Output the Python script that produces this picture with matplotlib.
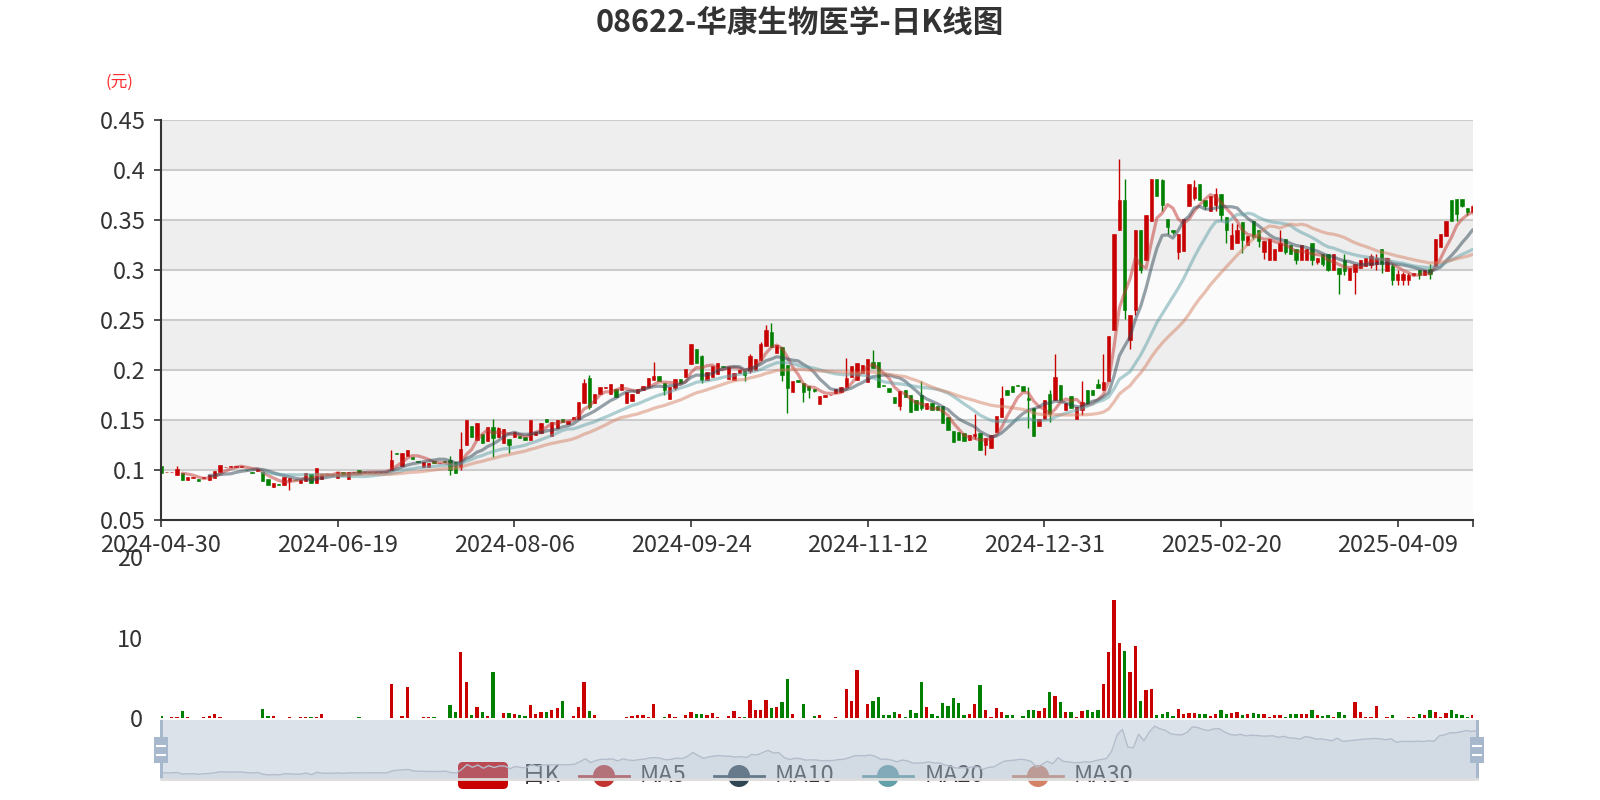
"""
08622 华康生物医学 — daily K-line chart with MA lines, volume and zoom slider.
Values were read off the reference picture (approximate).
"""

import numpy as np
import pandas as pd
import matplotlib
matplotlib.use("Agg")
import matplotlib.pyplot as plt
from matplotlib.patches import Rectangle, FancyBboxPatch, Circle

plt.rcParams["font.family"] = ["Noto Sans CJK SC", "DejaVu Sans"]

TITLE = "08622-华康生物医学-日K线图"
UNIT = "(元)"

# ── Trading calendar ───────────────────────────────────────────────────────
HOLIDAYS = [
    "2024-05-01", "2024-05-15", "2024-06-10", "2024-07-01", "2024-09-18",
    "2024-10-01", "2024-10-11", "2024-12-25", "2024-12-26", "2025-01-01",
    "2025-01-29", "2025-01-30", "2025-01-31", "2025-04-04", "2025-04-18",
    "2025-04-21", "2025-05-01",
]
NO_TRADE = ["2024-09-06"]

# ── Daily OHLC (HKD) ───────────────────────────────────────────────────────
OPEN = [
    .1044, .0980, .0980, .0954, .0971, .0908, .0925, .0911, .0920, .0904,
    .0924, .0984, .1030, .1035, .1035, .1035, .1008, .0985, .0990, .0987,
    .0911, .0837, .0865, .0854, .0890, .0908, .0877, .0897, .0964, .0877,
    .0917, .0955, .0955, .0927, .0984, .0917, .0980, .1004, .0980, .0980,
    .0980, .0980, .0980, .1000, .1170, .1047, .1144, .1130, .1090, .1037,
    .1037, .1090, .1070, .1092, .1104, .1080, .1037, .1254, .1444, .1304,
    .1364, .1297, .1437, .1330, .1277, .1310, .1330, .1340, .1337, .1304,
    .1354, .1370, .1514, .1344, .1420, .1510, .1464, .1510, .1517, .1670,
    .1920, .1671, .1764, .1828, .1764, .1817, .1804, .1671, .1694, .1771,
    .1804, .1831, .1900, .1944, .1871, .1711, .1820, .1911, .1931, .2064,
    .2211, .2140, .1904, .1931, .1964, .2044, .1911, .1904, .1971, .1997,
    .1990, .2004, .2104, .2244, .2380, .2171, .2230, .2050, .1787, .1904,
    .1871, .1844, .1811, .1661, .1731, .1750, .1771, .1787, .1837, .1937,
    .1904, .1977, .1887, .2080, .2087, .1848, .1820, .1731, .1640, .1804,
    .1754, .1704, .1750, .1611, .1677, .1640, .1644, .1537, .1397, .1387,
    .1370, .1304, .1340, .1370, .1250, .1220, .1387, .1537, .1804, .1844,
    .1850, .1844, .1720, .1620, .1444, .1519, .1760, .1707, .1858, .1602,
    .1745, .1519, .1600, .1802, .1802, .1860, .1802, .1896, .2405, .3404,
    .3700, .2300, .2600, .3404, .3103, .3498, .3913, .3900, .3517, .3404,
    .3180, .3197, .3649, .3720, .3864, .3706, .3593, .3650, .3762, .3536,
    .3216, .3272, .3480, .3253, .3498, .3404, .3180, .3103, .3103, .3197,
    .3310, .3253, .3216, .3103, .3103, .3272, .3080, .3159, .3159, .3008,
    .3027, .3100, .2906, .2980, .3027, .3046, .3050, .3060, .3216, .2997,
    .3040, .2900, .2900, .2900, .2950, .3008, .2959, .3010, .3046, .3235,
    .3348, .3706, .3713, .3713, .3623, .3580,
]
CLOSE = [
    .0977, .0985, .0985, .1011, .0904, .0930, .0930, .0897, .0930, .0950,
    .0994, .1051, .1035, .1040, .1040, .1040, .1000, .0978, .1010, .0897,
    .0857, .0877, .0858, .0930, .0920, .0900, .0904, .0977, .0871, .1020,
    .0964, .0960, .0960, .0980, .0957, .0984, .0985, .0977, .0985, .0985,
    .0985, .0985, .0985, .1100, .1160, .1170, .1200, .1110, .1085, .1080,
    .1074, .1070, .1074, .1088, .1004, .0977, .1214, .1504, .1337, .1477,
    .1277, .1437, .1320, .1420, .1410, .1250, .1387, .1324, .1304, .1504,
    .1387, .1477, .1487, .1487, .1504, .1487, .1497, .1530, .1684, .1870,
    .1630, .1764, .1837, .1832, .1864, .1731, .1861, .1787, .1761, .1814,
    .1847, .1924, .1944, .1897, .1800, .1831, .1911, .1877, .2014, .2264,
    .2071, .1900, .1987, .2044, .2071, .2031, .2031, .1971, .2004, .1950,
    .2140, .2114, .2260, .2400, .2238, .2254, .1950, .1820, .1897, .1880,
    .1780, .1800, .1795, .1744, .1754, .1754, .1814, .1831, .1920, .2044,
    .2071, .2054, .2110, .2020, .1837, .1844, .1787, .1677, .1790, .1731,
    .1587, .1604, .1620, .1671, .1604, .1604, .1470, .1404, .1287, .1304,
    .1297, .1354, .1360, .1204, .1320, .1354, .1544, .1720, .1754, .1787,
    .1840, .1797, .1700, .1344, .1510, .1707, .1560, .1934, .1700, .1670,
    .1620, .1632, .1680, .1660, .1750, .1820, .1880, .2348, .3367, .3706,
    .2600, .2556, .3404, .3000, .3555, .3913, .3744, .3650, .3430, .3380,
    .3367, .3517, .3864, .3830, .3706, .3640, .3744, .3760, .3550, .3400,
    .3350, .3400, .3300, .3348, .3330, .3290, .3291, .3310, .3216, .3272,
    .3180, .3160, .3100, .3253, .3216, .3100, .3121, .3060, .3000, .3159,
    .2960, .2990, .3027, .3065, .3103, .3121, .3140, .3120, .3060, .3121,
    .2900, .2960, .2960, .2950, .2970, .2950, .3008, .2960, .3310, .3367,
    .3498, .3498, .3560, .3640, .3580, .3640,
]
HIGH = [
    .1044, .0985, .0985, .1044, .0971, .0930, .0930, .0911, .0930, .0950,
    .0994, .1058, .1035, .1040, .1040, .1040, .1008, .0985, .1010, .0987,
    .0911, .0877, .0865, .0930, .0920, .0908, .0904, .0977, .0964, .1020,
    .0964, .0960, .0960, .0980, .0984, .0984, .0985, .1004, .0985, .0985,
    .0985, .0985, .0985, .1204, .1170, .1170, .1204, .1130, .1090, .1080,
    .1074, .1090, .1074, .1092, .1144, .1080, .1387, .1504, .1444, .1477,
    .1364, .1437, .1510, .1430, .1410, .1310, .1387, .1340, .1337, .1504,
    .1387, .1477, .1514, .1487, .1504, .1510, .1497, .1530, .1684, .1917,
    .1950, .1764, .1837, .1832, .1864, .1817, .1861, .1787, .1761, .1814,
    .1847, .1924, .2087, .1944, .1871, .1831, .1911, .1911, .2014, .2264,
    .2211, .2151, .1987, .2044, .2071, .2044, .2031, .1971, .2004, .1997,
    .2164, .2114, .2281, .2454, .2471, .2254, .2230, .2051, .1897, .1904,
    .1871, .1844, .1811, .1744, .1754, .1754, .1814, .1831, .2121, .2044,
    .2071, .2054, .2110, .2204, .2087, .1848, .1820, .1731, .1790, .1804,
    .1754, .1704, .1894, .1671, .1677, .1640, .1644, .1537, .1397, .1387,
    .1370, .1354, .1564, .1370, .1320, .1354, .1544, .1844, .1804, .1844,
    .1850, .1844, .1837, .1620, .1510, .1707, .1802, .2160, .1858, .1670,
    .1745, .1632, .1896, .1802, .1802, .1915, .2160, .2348, .3367, .4113,
    .3913, .2556, .3404, .3404, .3555, .3913, .3913, .3913, .3517, .3404,
    .3367, .3517, .3864, .3902, .3864, .3706, .3744, .3819, .3762, .3536,
    .3472, .3461, .3480, .3348, .3498, .3404, .3291, .3310, .3216, .3404,
    .3310, .3253, .3216, .3253, .3216, .3272, .3121, .3159, .3159, .3159,
    .3027, .3159, .3027, .3065, .3103, .3121, .3159, .3159, .3216, .3121,
    .3065, .3008, .2989, .2971, .2971, .3008, .3008, .3065, .3310, .3367,
    .3498, .3706, .3713, .3713, .3623, .3661,
]
LOW = [
    .0977, .0980, .0980, .0954, .0904, .0908, .0925, .0897, .0920, .0904,
    .0924, .0984, .1030, .1035, .1035, .1035, .1000, .0978, .0990, .0897,
    .0857, .0837, .0858, .0854, .0804, .0900, .0877, .0897, .0871, .0877,
    .0917, .0955, .0955, .0927, .0957, .0917, .0980, .0977, .0980, .0980,
    .0980, .0980, .0980, .1000, .1160, .1047, .1144, .1110, .1085, .1037,
    .1037, .1070, .1070, .1088, .0957, .0977, .1000, .1254, .1337, .1304,
    .1277, .1297, .1130, .1330, .1277, .1170, .1330, .1324, .1304, .1304,
    .1354, .1370, .1487, .1344, .1420, .1487, .1464, .1510, .1517, .1670,
    .1610, .1671, .1764, .1828, .1764, .1731, .1804, .1671, .1694, .1771,
    .1804, .1831, .1900, .1897, .1754, .1711, .1804, .1877, .1931, .2064,
    .2071, .1877, .1904, .1931, .1964, .2031, .1911, .1904, .1971, .1897,
    .1971, .2004, .2104, .2244, .2238, .2171, .1897, .1571, .1787, .1880,
    .1687, .1721, .1787, .1661, .1731, .1750, .1771, .1787, .1837, .1937,
    .1904, .1977, .1887, .2020, .1837, .1844, .1787, .1677, .1604, .1731,
    .1587, .1604, .1604, .1611, .1604, .1604, .1470, .1404, .1287, .1304,
    .1297, .1304, .1310, .1204, .1154, .1220, .1387, .1537, .1754, .1787,
    .1840, .1797, .1420, .1344, .1444, .1519, .1481, .1707, .1700, .1602,
    .1620, .1519, .1557, .1660, .1750, .1820, .1802, .1896, .2405, .3404,
    .2518, .2216, .2556, .2971, .3103, .3498, .3744, .3593, .3367, .3367,
    .3110, .3197, .3649, .3706, .3706, .3612, .3593, .3593, .3498, .3272,
    .3216, .3272, .3178, .3253, .3310, .3235, .3110, .3103, .3103, .3197,
    .3159, .3159, .3065, .3103, .3103, .3054, .3065, .3046, .2997, .3008,
    .2763, .2959, .2906, .2763, .3027, .3046, .3027, .3008, .2971, .2997,
    .2857, .2857, .2857, .2857, .2950, .2914, .2959, .2914, .3046, .3235,
    .3348, .3498, .3498, .3630, .3555, .3555,
]

# ── Daily volume ───────────────────────────────────────────────────────────
VOLUME = [
    .30, .10, .20, .20, .90, .20, .05, .10, .15, .35,
    .50, .15, .05, .05, .05, .05, .10, .10, .10, 1.2,
    .35, .35, .10, .10, .20, .05, .20, .20, .20, .20,
    .50, .05, .05, .10, .10, .05, .05, .20, .05, .05,
    .05, .05, .05, 4.3, .10, .25, 3.9, .10, .10, .15,
    .15, .15, .05, .05, 1.7, .75, 8.2, 4.5, .40, 1.4,
    .80, .25, 5.8, .10, .70, .70, .50, .40, .30, 1.6,
    .60, .80, .80, 1.1, 1.3, 2.1, .10, .30, 1.4, 4.5,
    .90, .40, .10, .10, .05, .10, .10, .15, .35, .40,
    .40, .20, 1.75, .05, .15, .50, .20, .10, .40, .80,
    .60, .50, .40, .70, .20, .05, .30, .90, .20, .20,
    2.3, 1.1, 1.1, 2.3, 1.25, 1.4, 2.0, 4.9, .50, .05,
    1.75, .10, .30, .40, .10, .05, .20, .05, 3.6, 2.2,
    6.0, .10, 1.8, 2.2, 2.6, .40, .40, .80, .60, .20,
    1.1, .70, 4.5, 1.4, .50, .30, 1.9, 1.5, 2.5, 1.9,
    .40, .60, 1.8, 4.1, 1.0, .20, 1.3, .80, .40, .40,
    .05, .30, 1.0, 1.1, .90, 1.3, 3.3, 2.8, 2.0, .75,
    .75, .20, .90, 1.0, .75, 1.1, 4.3, 8.2, 14.7, 9.4,
    8.4, 5.8, 9.0, 2.2, 3.5, 3.7, .40, .50, .80, .30,
    1.2, .50, .70, .70, .60, .50, .30, .50, 1.1, .50,
    .70, .75, .40, .50, .70, .60, .50, .20, .40, .40,
    .20, .50, .60, .60, .50, 1.0, .40, .30, .40, .15,
    .85, .40, .10, 2.0, .80, .20, .20, 1.5, .10, .20,
    .40, .10, .10, .15, .15, .50, .40, 1.0, .75, .20,
    .70, 1.0, .50, .40, .20, .40,
]

PRICE_TICKS = [0.05, 0.1, 0.15, 0.2, 0.25, 0.3, 0.35, 0.4, 0.45]
VOLUME_TICKS = [0, 10, 20]
LABEL_EVERY = 33

# ── Styling ────────────────────────────────────────────────────────────────
UP_COLOR   = "#c80000"
DOWN_COLOR = "#008000"
MA_WINDOWS = [5, 10, 20, 30]
MA_COLORS  = ["#c23531", "#2f4554", "#61a0a8", "#d48265"]
TEXT_COLOR = "#333333"
SLIDER_COL = "#a7b7cc"

W, H = 1600, 800
PLOT_L, PLOT_R = 161, 1472.7      # pixel edges of the price / volume plots


def fx(px):
    return px / W


def fy(py):
    return 1 - py / H


def trading_days():
    days = pd.bdate_range("2024-04-30", "2025-05-02")
    drop = pd.to_datetime(HOLIDAYS + NO_TRADE)
    days = days[~days.isin(drop)]
    return [d.strftime("%Y-%m-%d") for d in days]


# ── Price panel ────────────────────────────────────────────────────────────
def draw_price(fig, dates, x, colors):
    ax = fig.add_axes([fx(PLOT_L), fy(520.4), fx(PLOT_R) - fx(PLOT_L), 400 / H])
    o, c = np.array(OPEN), np.array(CLOSE)
    h, l = np.array(HIGH), np.array(LOW)

    # alternating split areas + grid
    for k, (lo, hi) in enumerate(zip(PRICE_TICKS[:-1], PRICE_TICKS[1:])):
        ax.axhspan(lo, hi, color="#fbfbfb" if k % 2 == 0 else "#eeeeee",
                   lw=0, zorder=0)
    for v in PRICE_TICKS[1:]:
        ax.axhline(v, color="#cccccc", lw=1.5, zorder=1)

    ax.vlines(x, l, h, colors=colors, lw=1.0, zorder=3)
    body_h = np.maximum(np.abs(c - o), 0.0008)
    ax.bar(x, body_h, bottom=np.minimum(o, c), width=0.62, color=colors,
           edgecolor=colors, linewidth=0.4, zorder=4)

    closes = pd.Series(CLOSE)
    for w, col in zip(MA_WINDOWS, MA_COLORS):
        ax.plot(x, closes.rolling(w).mean(), color=col, lw=2.3, alpha=0.5,
                zorder=5, solid_capstyle="round", solid_joinstyle="round")

    ax.set_xlim(0, len(x) - 1)
    ax.set_ylim(PRICE_TICKS[0], PRICE_TICKS[-1])
    ax.set_yticks(PRICE_TICKS)
    ax.set_yticklabels([f"{v:g}" for v in PRICE_TICKS])
    ticks = list(range(0, len(x), LABEL_EVERY))
    ax.set_xticks(ticks + [len(x) - 1])
    ax.set_xticklabels([dates[i] for i in ticks] + [""])

    for side in ("top", "right"):
        ax.spines[side].set_visible(False)
    for side in ("left", "bottom"):
        ax.spines[side].set_color(TEXT_COLOR)
        ax.spines[side].set_linewidth(1.5)
        ax.spines[side].set_zorder(6)
    ax.tick_params(axis="both", colors=TEXT_COLOR, labelsize=17,
                   length=5, width=1.2, pad=5)
    ax.tick_params(axis="y", pad=6)
    return ax


# ── Volume panel ───────────────────────────────────────────────────────────
def draw_volume(fig, x, colors):
    vax = fig.add_axes([fx(PLOT_L), fy(718.4), fx(PLOT_R) - fx(PLOT_L),
                        (718.4 - 557) / H])
    vax.bar(x, VOLUME, width=0.62, color=colors, linewidth=0)
    vax.set_xlim(0, len(x) - 1)
    vax.set_ylim(0, VOLUME_TICKS[-1])
    vax.set_yticks(VOLUME_TICKS)
    vax.set_xticks([])
    for s in vax.spines.values():
        s.set_visible(False)
    vax.patch.set_alpha(0)
    vax.tick_params(axis="y", length=0, pad=13, labelsize=17,
                    colors=TEXT_COLOR)
    return vax


# ── Legend (drawn in pixel space, under the slider) ────────────────────────
def draw_legend(fig):
    lax = fig.add_axes([0, 0, 1, 1])
    lax.set_xlim(0, W)
    lax.set_ylim(H, 0)
    lax.axis("off")
    lax.set_zorder(2)

    lax.add_patch(FancyBboxPatch((458, 762), 50, 27,
                                 boxstyle="round,pad=0,rounding_size=5",
                                 color=UP_COLOR, lw=0))
    lax.text(522, 776, "日K", fontsize=17, color=TEXT_COLOR, va="center")

    items = [("MA5", 579, 640), ("MA10", 714, 775),
             ("MA20", 863, 925), ("MA30", 1013, 1074)]
    for (name, x0, tx), col in zip(items, MA_COLORS):
        lax.plot([x0, x0 + 50], [776, 776], color=col, lw=2)
        lax.add_patch(Circle((x0 + 25, 776), 11, color=col, lw=0))
        lax.text(tx, 776, name, fontsize=17, color=TEXT_COLOR, va="center")


# ── Data-zoom slider ───────────────────────────────────────────────────────
def draw_slider(fig, x):
    left, right, top, bottom = 161, 1477, 720, 779
    sax = fig.add_axes([fx(left), fy(bottom), fx(right) - fx(left),
                        (bottom - top) / H])
    sax.set_zorder(3)
    sax.patch.set_alpha(0)
    sax.set_xlim(0, len(x) - 1)
    sax.set_ylim(0.06, 0.43)
    sax.axis("off")
    sax.fill_between(x, 0.06, CLOSE, color="#9aa8bd", alpha=0.14, lw=0)
    sax.plot(x, CLOSE, color="#b3bdcb", lw=1)
    sax.add_patch(Rectangle((0, 0), 1, 1, transform=sax.transAxes,
                            color=SLIDER_COL, alpha=0.4, lw=0))

    hax = fig.add_axes([0, 0, 1, 1])
    hax.set_xlim(0, W)
    hax.set_ylim(H, 0)
    hax.axis("off")
    hax.set_zorder(4)
    hax.plot([left, right], [bottom, bottom], color="#dddddd", lw=2)
    for cx in (left, right):
        hax.add_patch(Rectangle((cx - 1.5, top), 3, bottom - top,
                                color=SLIDER_COL, lw=0))
        hax.add_patch(Rectangle((cx - 7, 737), 14, 26,
                                color=SLIDER_COL, lw=0))
        for yy in (745.5, 754.5):
            hax.plot([cx - 4, cx + 4], [yy, yy], color="white", lw=1.5)


# ── Main ───────────────────────────────────────────────────────────────────
def main():
    dates = trading_days()
    assert len(dates) == len(CLOSE) == len(VOLUME)
    x = np.arange(len(dates))
    colors = np.where(np.array(CLOSE) >= np.array(OPEN), UP_COLOR, DOWN_COLOR)

    fig = plt.figure(figsize=(16, 8), dpi=100, facecolor="white")
    draw_price(fig, dates, x, colors)
    draw_volume(fig, x, colors)
    draw_legend(fig)
    draw_slider(fig, x)

    fig.text(0.5, fy(23), TITLE, ha="center", va="center", fontsize=22,
             fontweight="bold", color=TEXT_COLOR)
    fig.text(fx(119), fy(82), UNIT, ha="center", va="center", fontsize=12,
             color="#ff2d2d")

    fig.savefig("out.png", dpi=100, facecolor="white")
    plt.close(fig)


if __name__ == "__main__":
    main()
